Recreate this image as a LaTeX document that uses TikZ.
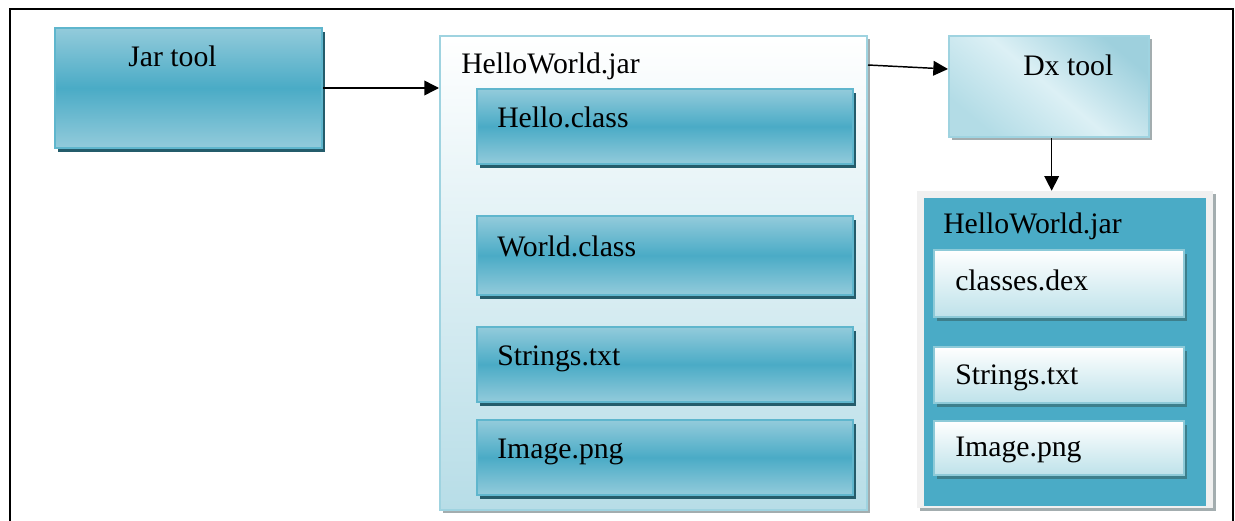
\documentclass[tikz,border=0pt]{standalone}
\usepackage{fontspec}
\setmainfont{Liberation Serif}
\newfontfamily\diagfont{Liberation Serif}
\usetikzlibrary{arrows.meta,shadows,calc}
\definecolor{tealmid}{HTML}{4AABC6}
\definecolor{teallight}{HTML}{93CBDB}
\definecolor{tealedge}{HTML}{5FB6CD}
\definecolor{tealshadow}{HTML}{245C6B}
\definecolor{paleedge}{HTML}{9FD3E0}
\definecolor{palebottom}{HTML}{B7DDE7}
\definecolor{greyshadow}{HTML}{A3ADAF}
\definecolor{dxdark}{HTML}{9ED0DD}
\definecolor{dxlight}{HTML}{DCF0F5}
\definecolor{dxbottom}{HTML}{B3DCE6}
\definecolor{outergrey}{HTML}{F0F0F0}
\definecolor{innerbottom}{HTML}{BEE2EA}
\definecolor{inneredge}{HTML}{8DCAD8}
\definecolor{innershadow}{HTML}{3D7F8C}
\begin{document}
\begin{tikzpicture}[x=0.75pt,y=-0.75pt,
  font=\diagfont\fontsize{22.3}{26}\selectfont,
  box/.style 2 args={rectangle, inner sep=0pt, minimum width=#1*0.75pt, minimum height=#2*0.75pt},
  tealbox/.style={draw=tealedge, line width=1.5pt, top color=teallight, bottom color=teallight, middle color=tealmid,
    general shadow={fill=tealshadow, shadow xshift=2.5pt, shadow yshift=-2.8pt}},
  palebox/.style={draw=paleedge, line width=1.5pt, top color=white, bottom color=palebottom,
    general shadow={fill=greyshadow, shadow xshift=2.5pt, shadow yshift=-2.5pt}},
  dxbox/.style={draw=paleedge, line width=1.5pt, top color=dxdark, bottom color=dxbottom, middle color=dxlight, shading angle=-40,
    general shadow={fill=greyshadow, shadow xshift=2.5pt, shadow yshift=-2.5pt}},
  greybox/.style={fill=outergrey, draw=none,
    general shadow={fill=greyshadow, shadow xshift=2.5pt, shadow yshift=-2.5pt}},
  tealpanel/.style={fill=tealmid, draw=none},
  whitebox/.style={draw=inneredge, line width=1.5pt, top color=white, bottom color=innerbottom,
    general shadow={fill=innershadow, shadow xshift=2.5pt, shadow yshift=-3pt}},
  lbl/.style={anchor=base west, inner sep=0pt},
  arr/.style={line width=1.1pt, -{Triangle[length=11pt, width=11pt]}},
  frame/.style={line width=2pt, draw=black}
]
\useasboundingbox (0,0) rectangle (1235,521);
\fill[white] (0,0) rectangle (1235,521);
\draw[frame] (10,521) -- (10,9) -- (1233,9) -- (1233,521);

% Jar tool
\node[box={267}{120}, tealbox] (jar) at (188.5,88) {};
\node[lbl] (jart) at (128,66) {Jar tool};

% Big HelloWorld.jar
\node[box={427}{474}, palebox] (big) at (653.5,273) {};
\node[lbl] (bigt) at (461,73) {HelloWorld.jar};
\node[box={376}{75}, tealbox] (hello) at (665,126.5) {};
\node[lbl] (hellot) at (497,127) {Hello.class};
\node[box={376}{79}, tealbox] (world) at (665,255.5) {};
\node[lbl] (worldt) at (497,256) {World.class};
\node[box={376}{75}, tealbox] (str) at (665,364.5) {};
\node[lbl] (strt) at (497,365) {Strings.txt};
\node[box={376}{75}, tealbox] (img) at (665,457.5) {};
\node[lbl] (imgt) at (497,458) {Image.png};

% Dx tool
\node[box={200}{101}, dxbox] (dx) at (1049,86.5) {};
\node[lbl] (dxt) at (1023,75) {Dx tool};

% Right HelloWorld.jar
\node[box={296}{317}, greybox] (rjar) at (1065,349.5) {};
\node[box={282}{308}, tealpanel] (rpanel) at (1065,352) {};
\node[lbl] (rjart) at (943,233) {HelloWorld.jar};
\node[box={250}{67}, whitebox] (dex) at (1059,283.5) {};
\node[lbl] (dext) at (955,290) {classes.dex};
\node[box={250}{56}, whitebox] (rstr) at (1059,375) {};
\node[lbl] (rstrt) at (955,384) {Strings.txt};
\node[box={250}{54}, whitebox] (rimg) at (1059,448) {};
\node[lbl] (rimgt) at (955,456) {Image.png};

% Connectors
\draw[arr] (jar.east) -- (jar.east -| big.west);
\draw[arr] ([yshift=-22.5pt]big.north east) -- ([yshift=13.1pt]dx.west);
\draw[arr] ([xshift=2pt]dx.south) -- ([xshift=2pt]dx.south |- rjar.north);
\end{tikzpicture}
\end{document}
